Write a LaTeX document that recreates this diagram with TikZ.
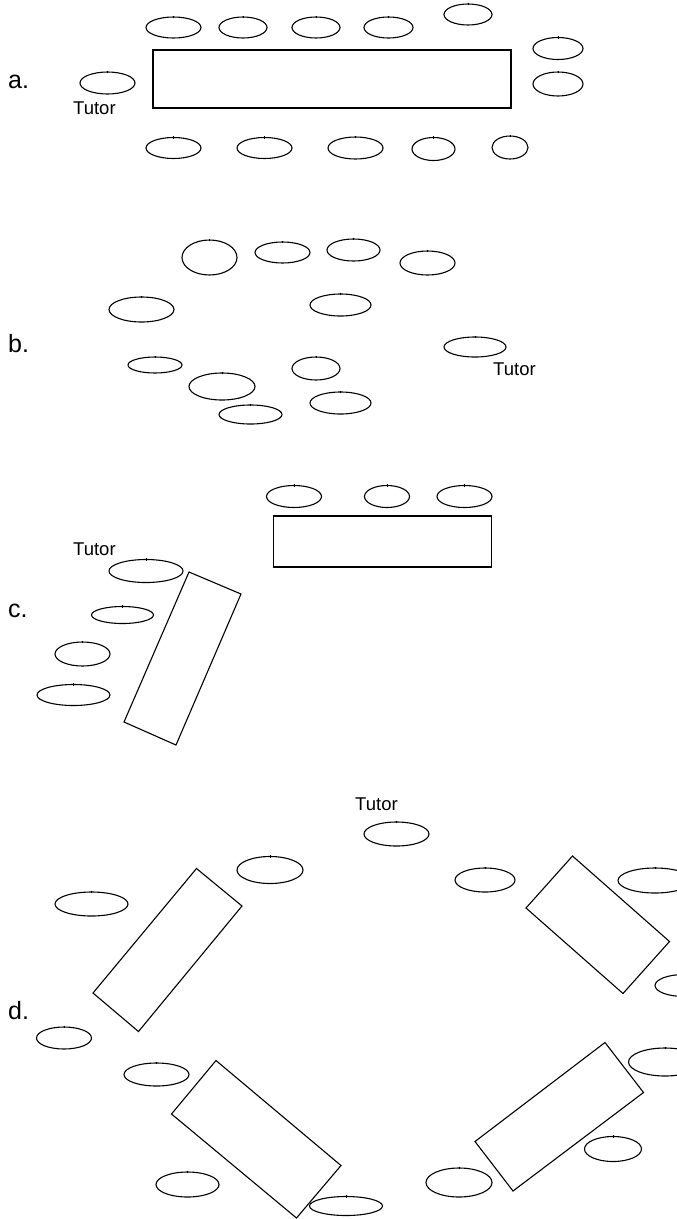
\documentclass[tikz,border=0pt]{standalone}
\usepackage{fontspec}
\setmainfont{Liberation Sans}
\tikzset{
  seatline/.style={draw=black, line width=1.1pt},
  seamline/.style={draw=black, line width=0.4pt},
  tableline/.style={draw=black, line width=1.1pt, line join=miter},
  panellabel/.style={inner sep=0pt, anchor=base west, font=\fontsize{25}{30}\selectfont},
  tutorlabel/.style={inner sep=0pt, anchor=base west, font=\fontsize{18.5}{22}\selectfont},
}
% a seat: centre x, centre y, x radius, y radius (all in px)
\newcommand\seat[4]{%
  \draw[seatline] (#1,#2) ellipse [x radius=#3pt, y radius=#4pt];
  \draw[seamline] (#1,#2) ++(0,-#4) ++(0,-1.2) -- ++(0,2.6);
}
\begin{document}
\begin{tikzpicture}[x=1pt, y=-1pt]
\useasboundingbox (0,0) rectangle (677,1219);

% ---------------- a. one long table ----------------
\node[panellabel] (la) at (8,88) {a.};
\seat{173.5}{27.5}{27.5}{10.5}
\seat{243}{27.5}{24}{10.5}
\seat{316}{27.5}{24}{10.5}
\seat{388.5}{27.5}{24.5}{10.5}
\seat{468}{14.5}{24}{10.5}
\draw[tableline] (153,50) rectangle (511,108);
\seat{558}{48.5}{25}{11}
\seat{558}{84}{25}{12}
\seat{107.5}{83}{27.5}{11}
\node[tutorlabel] (ta) at (73,114) {Tutor};
\seat{173.5}{148}{27.5}{10.5}
\seat{264.5}{148}{27.5}{10.5}
\seat{355.5}{148}{27.5}{11}
\seat{433.5}{149}{21.5}{11.5}
\seat{510}{147.5}{18}{11.5}

% ---------------- b. no tables ----------------
\node[panellabel] (lb) at (8,352) {b.};
\seat{209.5}{257.5}{27.5}{17.5}
\seat{282.5}{252.5}{27.5}{10.5}
\seat{353.5}{250}{26.5}{11}
\seat{427.5}{263}{27.5}{12}
\seat{141.5}{309.5}{32.5}{12.5}
\seat{340.5}{305}{30.5}{11}
\seat{475}{347}{31}{10}
\node[tutorlabel] (tb) at (493,375) {Tutor};
\seat{155}{365}{27}{8}
\seat{316}{368.5}{24}{11.5}
\seat{222}{386.5}{33}{13.5}
\seat{340.5}{403}{30.5}{11}
\seat{250.5}{414.5}{31.5}{9.5}

% ---------------- c. two tables ----------------
\node[panellabel] (lc) at (8,617) {c.};
\seat{294}{496.5}{27.5}{11}
\seat{387}{496.5}{22.5}{11}
\seat{464.5}{496.5}{27.5}{11}
\draw[tableline] (273.5,516) rectangle (491.5,567);
\node[tutorlabel] (tc) at (73,555) {Tutor};
\seat{146}{571}{37}{11.5}
\seat{122.5}{615}{31}{8.5}
\seat{82.5}{654}{27.5}{12}
\seat{73.5}{695}{36.5}{10.5}
\draw[tableline] (189,572) -- (241,594) -- (176,745) -- (124,722) -- cycle;

% ---------------- d. four tables in a ring ----------------
\node[panellabel] (ld) at (8,1019) {d.};
\node[tutorlabel] (td) at (355,810) {Tutor};
\seat{396.5}{834}{32.5}{12}
\seat{270}{870}{33}{13.5}
\seat{91.5}{904}{36.5}{12}
\seat{485}{880}{30}{12}
\seat{655}{880.5}{37}{12.5}
\seat{684}{985.5}{29}{11}
\seat{64}{1038}{27.5}{11}
\seat{156.5}{1074.5}{32.5}{11.5}
\seat{187.5}{1184.5}{31.5}{12.5}
\seat{346}{1206}{36.5}{9.5}
\seat{459}{1182.5}{33}{14.5}
\seat{613}{1149}{28.5}{12.5}
\seat{665}{1062}{36.5}{14}
\draw[tableline] (196.5,868.5) -- (242,906) -- (138.5,1031.5) -- (93,993) -- cycle;
\draw[tableline] (572.5,856) -- (669.5,941.5) -- (623,993.5) -- (526,908) -- cycle;
\draw[tableline] (216,1060.5) -- (341,1165.5) -- (296.5,1218) -- (171.5,1114) -- cycle;
\draw[tableline] (605,1042.5) -- (643.5,1092.5) -- (513,1191) -- (475,1141.5) -- cycle;
\end{tikzpicture}
\end{document}
